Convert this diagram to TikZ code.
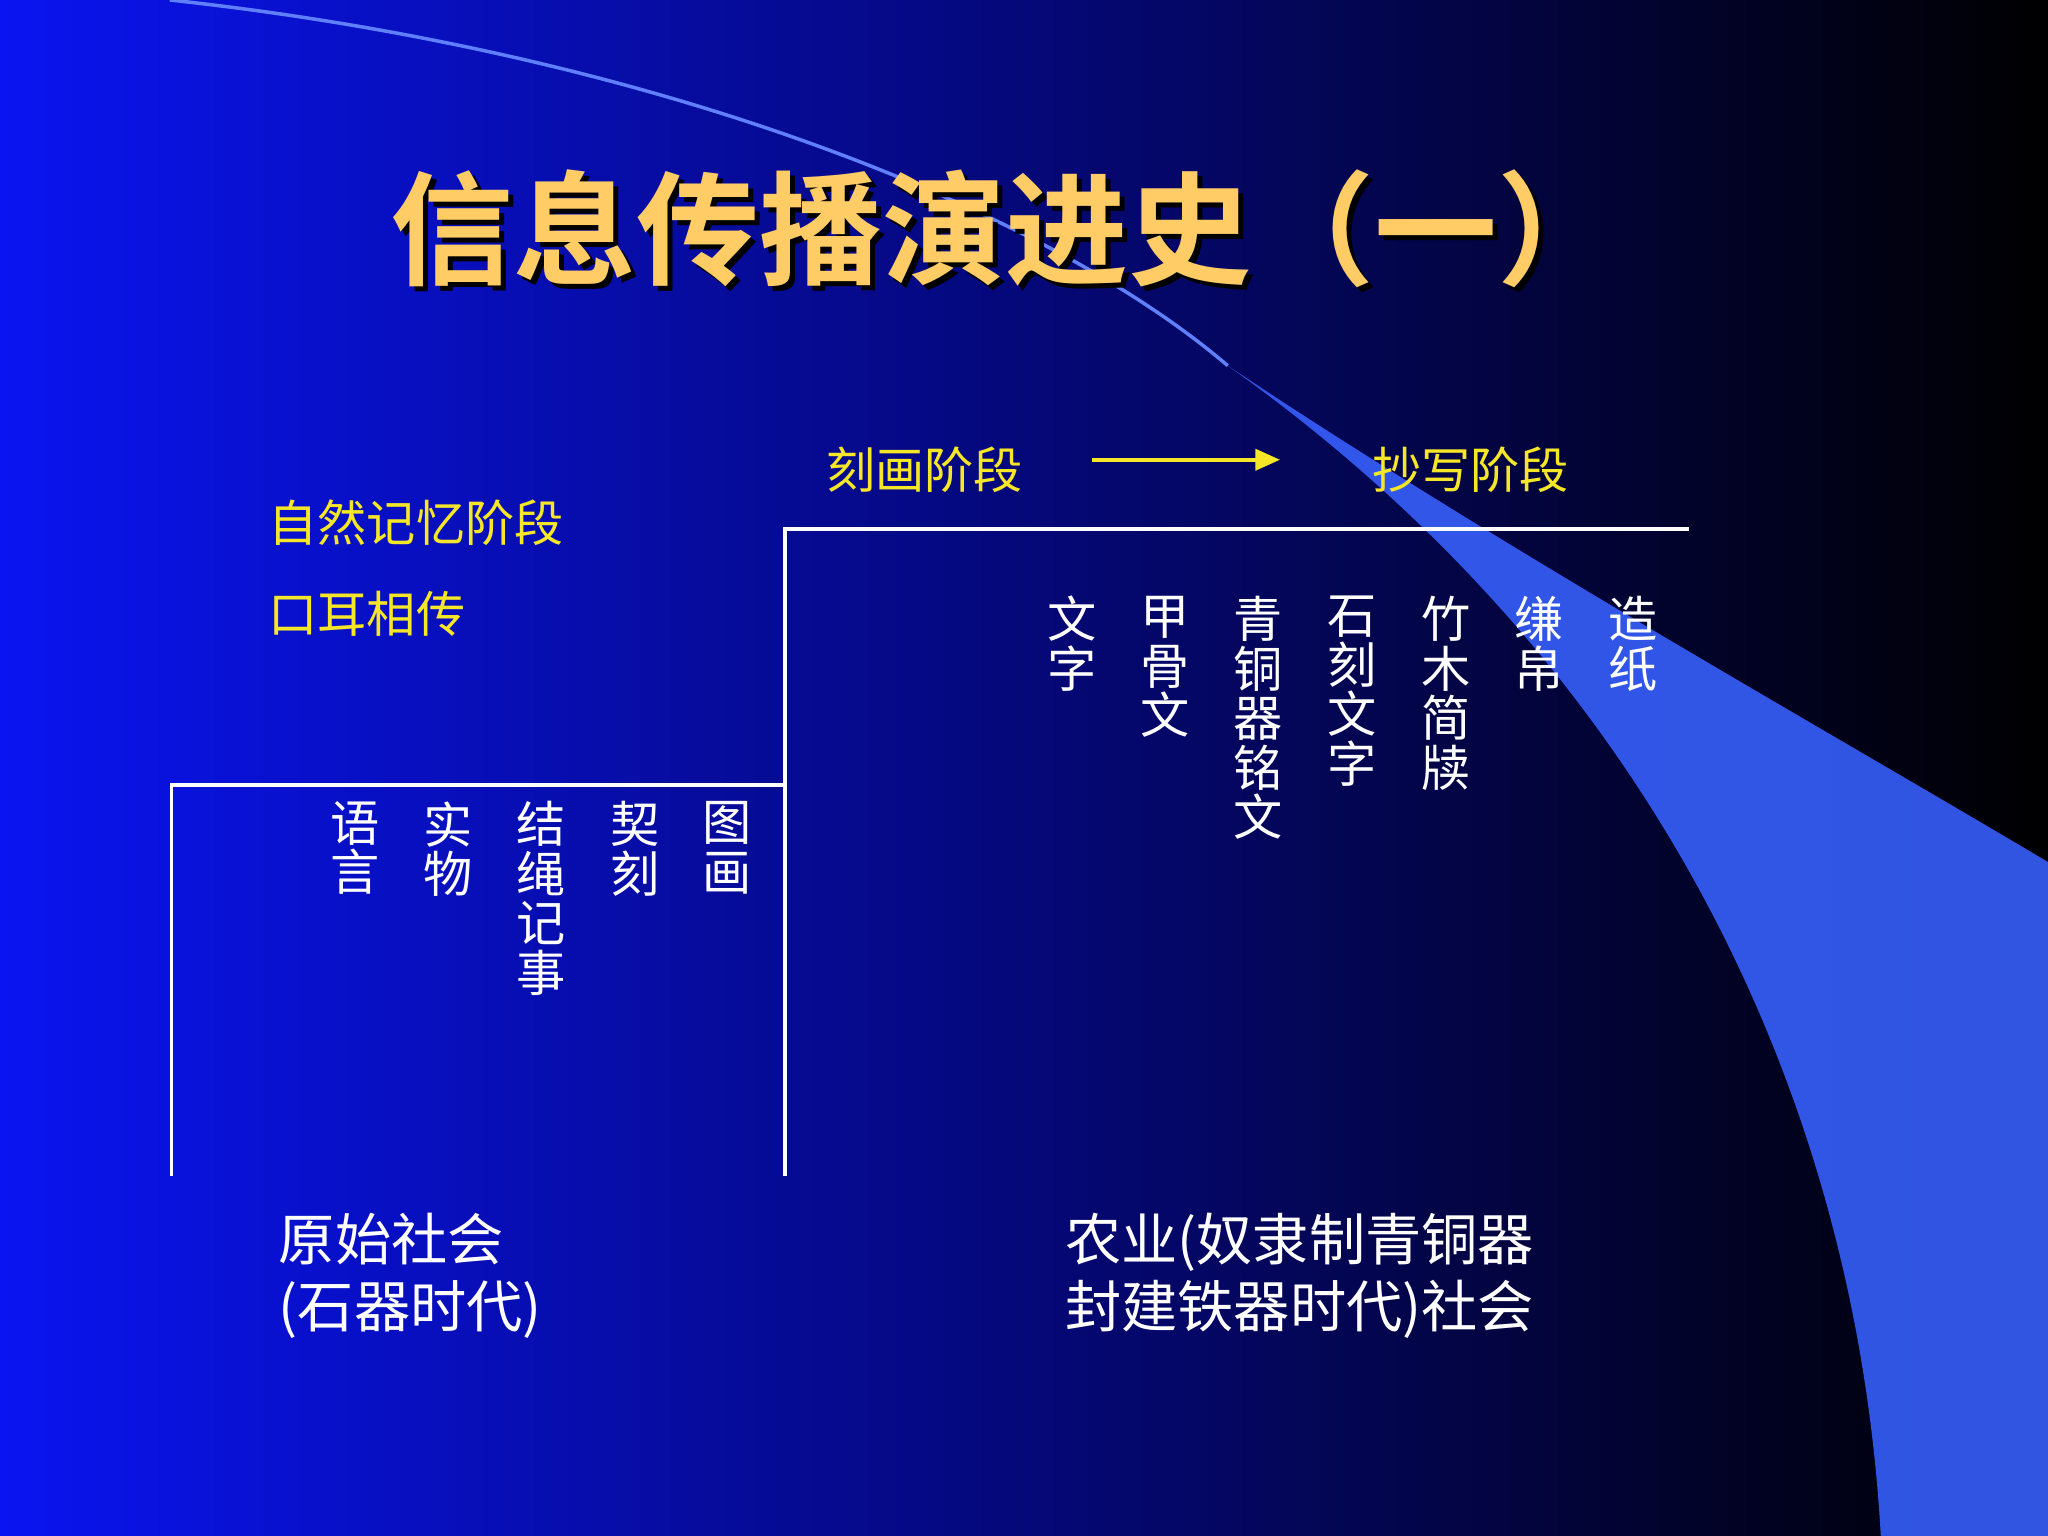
\documentclass[tikz,border=0pt]{standalone}
\usepackage{fontspec}
\newfontfamily\cjk{Noto Sans CJK SC}
\newfontfamily\cjkb{Noto Sans CJK SC Bold}
\usetikzlibrary{arrows.meta}
\definecolor{gold}{RGB}{255,204,102}
\definecolor{ylw}{RGB}{245,230,40}
\definecolor{swoosh}{RGB}{55,95,250}
\definecolor{bgl}{RGB}{10,20,240}
\begin{document}
\begin{tikzpicture}[x=0.01306cm,y=-0.01306cm,
  ytxt/.style={text=ylw,font=\cjk\fontsize{14}{14}\selectfont,inner sep=0pt},
  vcol/.style={text=white,font=\cjk\fontsize{14}{14.1}\selectfont,align=center,anchor=north,inner sep=0pt},
  btxt/.style={text=white,font=\cjk\fontsize{16}{19}\selectfont,align=left,anchor=west,inner sep=0pt},
  wline/.style={white,line width=0.9pt}]
\useasboundingbox (0,0) rectangle (1568,1176);
\shade[left color=bgl,right color=black,middle color={rgb,255:red,5;green,8;blue,120}] (0,0) rectangle (1568,1176);
% swoosh
\fill[swoosh,opacity=0.9] (940,280) .. controls (1150,420) and (1400,560) .. (1568,660) -- (1568,1176) -- (1440,1176) .. controls (1420,820) and (1250,500) .. (940,280) -- cycle;
\draw[swoosh!80!white,line width=1pt] (130,0) .. controls (500,40) and (800,160) .. (940,280);
% title
\node[font=\cjkb\fontsize{35}{35}\selectfont,text=black] at (774,179) {信息传播演进史（一）};
\node[font=\cjkb\fontsize{35}{35}\selectfont,text=gold] (title) at (770,175) {信息传播演进史（一）};
% yellow labels
\node[ytxt] (kh) at (708,360) {刻画阶段};
\node[ytxt] (cx) at (1126,360) {抄写阶段};
\node[ytxt,anchor=west] (zr) at (205,400) {自然记忆阶段};
\node[ytxt,anchor=west] (ke) at (205,470) {口耳相传};
\coordinate (a1) at (836,352); \coordinate (a2) at (980,352);
\draw[ylw,line width=1pt,-{Triangle[length=7pt,width=6pt]}] (a1) -- (a2);
% lines
\draw[wline] (131,900) -- (131,601) -- (601,601);
\draw[wline] (601,900) -- (601,405) -- (1293,405);
% left columns
\node[vcol] (c1) at (272,613) {语\\言};
\node[vcol] (c2) at (343,613) {实\\物};
\node[vcol] (c3) at (414,613) {结\\绳\\记\\事};
\node[vcol] (c4) at (486,613) {契\\刻};
\node[vcol] (c5) at (557,613) {图\\画};
% right columns
\node[vcol] (r1) at (821,456) {文\\字};
\node[vcol] (r2) at (892,456) {甲\\骨\\文};
\node[vcol] (r3) at (963,456) {青\\铜\\器\\铭\\文};
\node[vcol] (r4) at (1035,456) {石\\刻\\文\\字};
\node[vcol] (r5) at (1107,456) {竹\\木\\简\\牍};
\node[vcol] (r6) at (1178,456) {缣\\帛};
\node[vcol] (r7) at (1250,456) {造\\纸};
% bottom
\node[btxt] (b1) at (213,977) {原始社会\\(石器时代)};
\node[btxt] (b2) at (815,977) {农业(奴隶制青铜器\\封建铁器时代)社会};
\end{tikzpicture}
\end{document}
